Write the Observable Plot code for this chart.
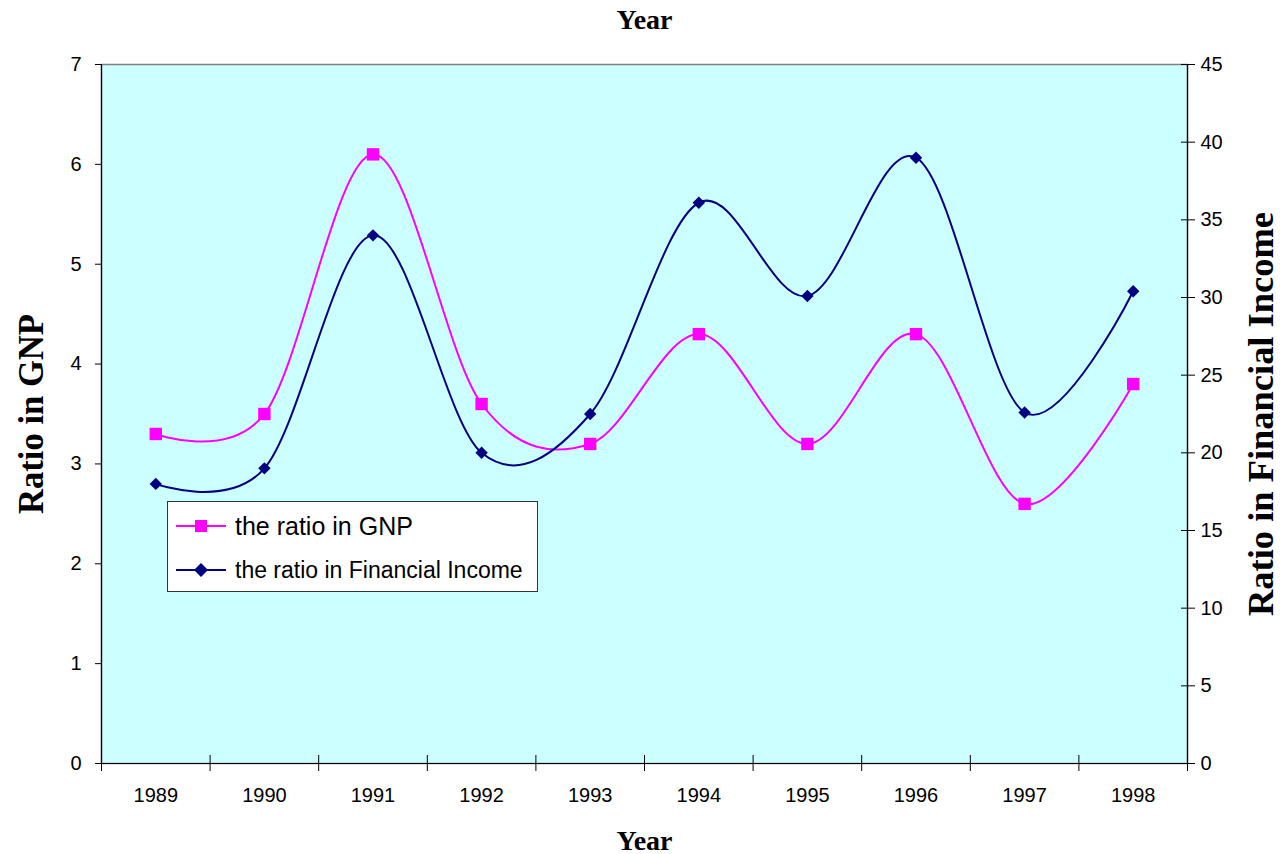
<!DOCTYPE html>
<html><head><meta charset="utf-8">
<script src="https://cdn.jsdelivr.net/npm/d3@7"></script>
<script src="https://cdn.jsdelivr.net/npm/@observablehq/plot@0.6"></script>
<style>
body{margin:0;background:#fff;}
#wrap{position:relative;width:1282px;height:854px;}
#legend{position:absolute;left:167px;top:501px;width:369px;height:89px;background:#fff;border:1px solid #333;font-family:Arial,"Liberation Sans",sans-serif;color:#000;}
.row{position:absolute;left:0;height:30px;display:flex;align-items:center;white-space:nowrap;}
.row svg{margin-left:8px;margin-right:9px;}
</style></head><body><div id="wrap"></div>
<script>
const years = [1989, 1990, 1991, 1992, 1993, 1994, 1995, 1996, 1997, 1998];
const gnpRatio = [3.3, 3.5, 6.1, 3.6, 3.2, 4.3, 3.2, 4.3, 2.6, 3.8];
const financialIncomeRatio = [18.0, 19.0, 34.0, 20.0, 22.5, 36.1, 30.1, 39.0, 22.6, 30.4];
const leftTicks = [0, 1, 2, 3, 4, 5, 6, 7];
const rightTicks = [0, 5, 10, 15, 20, 25, 30, 35, 40, 45];
const seriesNames = ["the ratio in GNP", "the ratio in Financial Income"];
const axisTitles = {x: "Year", left: "Ratio in GNP", right: "Ratio in Financial Income"};

const leftMax = 7, rightMax = 45;
const k = leftMax / rightMax;
const bounds = years.map(y => y - 0.5).concat([years[years.length - 1] + 0.5]);
const rows = years.map((y, i) => ({year: y, gnp: gnpRatio[i], fi: financialIncomeRatio[i]}));

const magenta = "#FF00FF", navy = "#000080";
const serif = '"Liberation Serif", "Times New Roman", serif';

const plot = Plot.plot({
  width: 1282, height: 854,
  marginLeft: 101, marginRight: 95, marginTop: 64, marginBottom: 91,
  style: {fontFamily: 'Arial, "Liberation Sans", sans-serif', fontSize: "20px", background: "transparent", color: "#000", overflow: "visible"},
  x: {domain: [bounds[0], bounds[bounds.length - 1]]},
  y: {domain: [0, leftMax]},
  marks: [
    Plot.frame({fill: "#CCFFFF", stroke: "#808080", strokeWidth: 1.5}),
    Plot.ruleX([bounds[0], bounds[bounds.length - 1]], {stroke: "#000", strokeWidth: 1.2}),
    Plot.ruleY([0], {stroke: "#000", strokeWidth: 1.2}),
    // left axis
    Plot.axisY(leftTicks, {anchor: "left", tickSize: 6, tickPadding: 14, label: null, fontSize: 20, tickFormat: d => String(d)}),
    // right axis: crossing ticks + labels
    Plot.axisY(rightTicks.map(v => v * k), {anchor: "right", tickSize: 14, dx: -7, label: null, tickFormat: () => ""}),
    Plot.axisY(rightTicks.map(v => v * k), {anchor: "right", tickSize: 0, tickPadding: 13, label: null, fontSize: 20, tickFormat: v => String(Math.round(v / k))}),
    // bottom axis: crossing ticks at category boundaries, labels at centers
    Plot.axisX(bounds, {anchor: "bottom", tickSize: 16, dy: -8, label: null, tickFormat: () => ""}),
    Plot.axisX(years, {anchor: "bottom", tickSize: 0, tickPadding: 24, label: null, fontSize: 20, tickFormat: d => String(d)}),
    // series
    Plot.line(rows, {x: "year", y: "gnp", stroke: magenta, strokeWidth: 2, curve: "cardinal"}),
    Plot.line(rows, {x: "year", y: d => d.fi * k, stroke: navy, strokeWidth: 2, curve: "cardinal"}),
    Plot.dot(rows, {x: "year", y: "gnp", symbol: "square", r: 7, fill: magenta, stroke: "none"}),
    Plot.dot(rows, {x: "year", y: d => d.fi * k, symbol: "diamond2", r: 5.6, fill: navy, stroke: "none"}),
    // titles
    Plot.text([axisTitles.x], {frameAnchor: "top", dy: -44, lineAnchor: "middle", fontSize: 28, fontWeight: "bold", fontFamily: serif, textAnchor: "middle"}),
    Plot.text([axisTitles.x], {frameAnchor: "bottom", dy: 78, lineAnchor: "middle", fontSize: 28, fontWeight: "bold", fontFamily: serif, textAnchor: "middle"}),
    Plot.text([axisTitles.left], {frameAnchor: "left", dx: -70, rotate: -90, lineAnchor: "middle", fontSize: 35, fontWeight: "bold", fontFamily: serif, textAnchor: "middle"}),
    Plot.text([axisTitles.right], {frameAnchor: "right", dx: 74, rotate: -90, lineAnchor: "middle", fontSize: 36, fontWeight: "bold", fontFamily: serif, textAnchor: "middle"})
  ]
});

// condense the titles like the reference
plot.querySelectorAll("text").forEach(t => {
  if (t.textContent === axisTitles.right) { t.setAttribute("textLength", "404"); t.setAttribute("lengthAdjust", "spacingAndGlyphs"); }
  if (t.textContent === axisTitles.left) { t.setAttribute("textLength", "200"); t.setAttribute("lengthAdjust", "spacingAndGlyphs"); }
});

const wrap = document.getElementById("wrap");
wrap.appendChild(plot);

// legend
const legend = document.createElement("div");
legend.id = "legend";
const swatch = (color, shape) => {
  const m = shape === "square"
    ? `<rect x="19" y="2" width="12" height="12" fill="${color}"/>`
    : `<path d="M25,1L32,8L25,15L18,8Z" fill="${color}"/>`;
  return `<svg width="50" height="16"><line x1="0" y1="8" x2="50" y2="8" stroke="${color}" stroke-width="2"/>${m}</svg>`;
};
legend.innerHTML =
  `<div class="row" style="top:9px;font-size:25px;">${swatch(magenta, "square")}<span>${seriesNames[0]}</span></div>` +
  `<div class="row" style="top:53px;font-size:23px;">${swatch(navy, "diamond")}<span>${seriesNames[1]}</span></div>`;
wrap.appendChild(legend);
</script>
</body></html>
